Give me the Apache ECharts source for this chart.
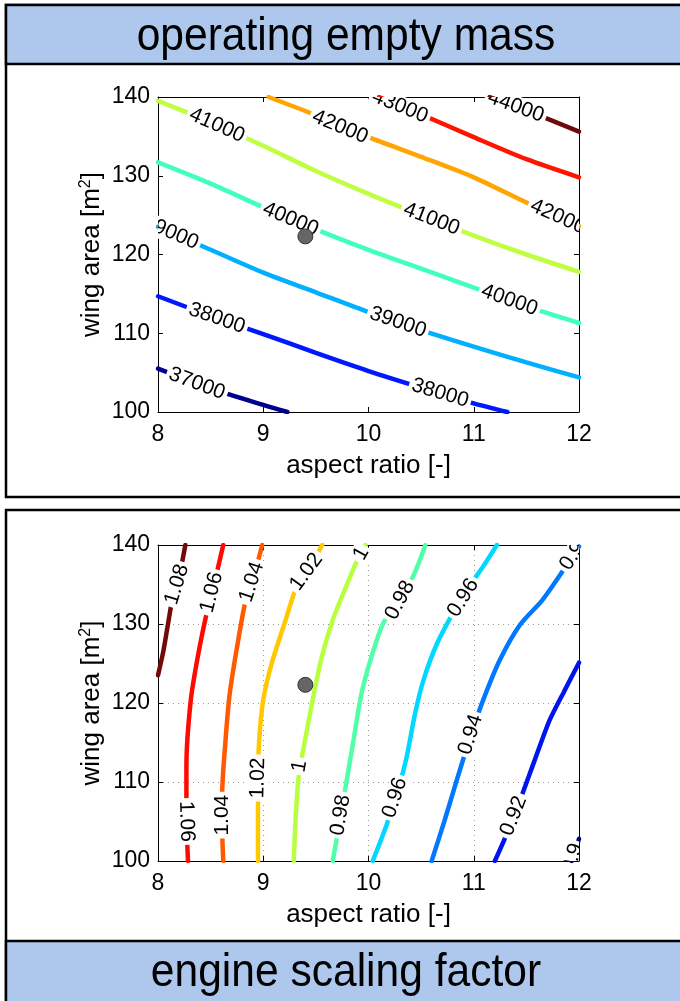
<!DOCTYPE html>
<html><head><meta charset="utf-8">
<script src="https://cdn.jsdelivr.net/npm/echarts@6/dist/echarts.min.js"></script>
<style>html,body{margin:0;padding:0;background:#fff}#c{width:680px;height:1001px}</style>
</head><body><div id="c"></div>
<script>
// ---------- data ----------
const xTicks = [8, 9, 10, 11, 12];
const yTicks = [100, 110, 120, 130, 140];
const designPoint = [[9.4, 122.3]];

// operating empty mass contours
const oemLevels = [37000, 38000, 39000, 40000, 41000, 42000, 43000, 44000];
const oemColors = ['#00008e', '#0018ff', '#00b0ff', '#40ffbf', '#bfff40', '#ffa400', '#ff1400', '#700a0a'];
const oemLines = [
  [[8,105.5],[8.5,103.0],[9.0,100.9],[9.23,100]],
  [[8,114.7],[8.5,112.2],[9,109.9],[9.5,107.5],[10,105.2],[10.5,103.1],[11,101.1],[11.32,100]],
  [[8,123.5],[8.5,120.6],[9,117.7],[9.5,115.2],[10,112.7],[10.5,110.4],[11,108.3],[11.5,106.3],[12,104.4]],
  [[8,131.7],[8.5,129.0],[9,126.0],[9.5,123.2],[10,120.6],[10.5,118.2],[11,115.8],[11.5,113.4],[12,111.3]],
  [[8,139.5],[8.5,136.8],[9,133.8],[9.5,130.6],[10,127.7],[10.5,125.0],[11,122.4],[11.5,120.0],[12,117.8]],
  [[9.05,140],[9.5,137.7],[10,134.9],[10.5,132.4],[11,129.8],[11.5,126.6],[12,123.6]],
  [[10.1,140],[10.5,137.8],[11,134.9],[11.5,132.1],[12,129.8]],
  [[11.15,140],[11.5,138.3],[12,135.6]]
];
// label anchors: [level index, aspect ratio, wing area]
const oemLabelPos = [
  [4, 8.56, 136.4], [5, 9.73, 136.2], [6, 10.3, 138.8], [7, 11.4, 138.8],
  [2, 8.12, 122.8], [3, 9.26, 124.5], [4, 10.6, 124.5], [5, 11.8, 124.8],
  [3, 11.34, 114.2], [2, 10.28, 111.4], [1, 8.56, 111.9], [1, 10.68, 102.4],
  [0, 8.37, 103.6]
];

// engine scaling factor contours
const esfLevels = [0.90, 0.92, 0.94, 0.96, 0.98, 1.00, 1.02, 1.04, 1.06, 1.08];
const esfColors = ['#00007a', '#0014f0', '#0078ff', '#00d8ff', '#50ffa8', '#b8ff40', '#ffc800', '#ff5a00', '#ff0a00', '#750808'];
const esfLines = [
  [[12,102.8],[11.96,101.2],[11.93,100]],
  [[12,125.1],[11.86,121.5],[11.72,117.8],[11.58,112.8],[11.44,107.7],[11.3,103],[11.2,100]],
  [[12,139.8],[11.82,136.2],[11.65,133],[11.44,129.9],[11.25,125.5],[11.09,120.4],[10.98,116.2],[10.84,110.3],[10.72,105],[10.6,100]],
  [[11.22,140],[11.1,137.5],[10.97,135],[10.82,131.8],[10.65,127.5],[10.52,122.8],[10.44,118.5],[10.36,113],[10.28,109],[10.17,104.5],[10.04,100]],
  [[10.54,140],[10.44,136.5],[10.3,133],[10.14,130.1],[10.02,125.5],[9.93,121],[9.86,115.5],[9.79,110],[9.72,104.5],[9.66,100]],
  [[9.97,140],[9.9,138.3],[9.78,134.5],[9.66,130.5],[9.55,125.5],[9.47,120.4],[9.40,115.5],[9.34,111],[9.31,106],[9.29,100]],
  [[9.56,140],[9.45,137.4],[9.33,135.2],[9.2,130],[9.08,125],[9.0,120.4],[8.96,115],[8.95,109.4],[8.95,100]],
  [[8.99,140],[8.92,136.5],[8.83,132.8],[8.75,127],[8.68,121],[8.64,115],[8.61,108.6],[8.61,104],[8.62,100]],
  [[8.62,140],[8.55,136],[8.47,131.8],[8.38,126],[8.31,120.2],[8.27,112],[8.27,106],[8.285,100]],
  [[8.26,140],[8.2,136],[8.14,133.4],[8.09,129.6],[8.05,126.5],[8.0,123.5]]
];
const esfLabelPos = [
  [9, 8.18, 135], [8, 8.51, 134], [7, 8.89, 135.3], [6, 9.41, 136.6], [5, 9.93, 138.9],
  [4, 10.3, 133], [3, 10.9, 133.3], [2, 11.97, 139.2],
  [8, 8.27, 105], [7, 8.61, 105.8], [6, 8.95, 110.5], [5, 9.345, 112],
  [4, 9.735, 105.8], [3, 10.25, 108], [2, 10.97, 116], [1, 11.38, 105.7], [0, 11.94, 100.4]
];

// ---------- chart ----------
const FONT = '"Liberation Sans", Arial, sans-serif';
const chart = echarts.init(document.getElementById('c'), null, {renderer: 'canvas'});

function segDist(p, a, b) {
  const dx = b[0]-a[0], dy = b[1]-a[1];
  const L = dx*dx + dy*dy;
  let t = L ? ((p[0]-a[0])*dx + (p[1]-a[1])*dy) / L : 0;
  t = Math.max(0, Math.min(1, t));
  const qx = a[0] + t*dx - p[0], qy = a[1] + t*dy - p[1];
  return Math.sqrt(qx*qx + qy*qy);
}
function labelRenderer(lines, levels) {
  return function (params, api) {
    const li = api.value(2);
    const p = api.coord([api.value(0), api.value(1)]);
    const pts = lines[li].map(d => api.coord(d));
    let best = Infinity, ang = 0;
    for (let i = 0; i < pts.length - 1; i++) {
      const d = segDist(p, pts[i], pts[i+1]);
      if (d < best) { best = d; ang = Math.atan2(-(pts[i+1][1]-pts[i][1]), pts[i+1][0]-pts[i][0]); }
    }
    while (ang > Math.PI/2 + 1e-6) ang -= Math.PI;
    while (ang <= -Math.PI/2 + 1e-6) ang += Math.PI;
    return {
      type: 'text', x: p[0], y: p[1], rotation: ang,
      style: {
        text: String(levels[li]), fill: '#000', font: '21px ' + FONT,
        align: 'center', verticalAlign: 'middle',
        backgroundColor: '#fff', padding: [0, 3]
      }
    };
  };
}

function axesX(g, grid) {
  return [{
    gridIndex: g, type: 'value', position: 'bottom',
    min: xTicks[0], max: xTicks[xTicks.length-1], interval: xTicks[1]-xTicks[0],
    axisLine: {show: true, onZero: false, lineStyle: {color: '#000', width: 1}},
    axisTick: {show: true, inside: true, length: 5, lineStyle: {color: '#000'}},
    axisLabel: {show: true, margin: 11, fontSize: 23, color: '#000', fontFamily: FONT},
    splitLine: {show: grid, lineStyle: {color: '#9a9a9a', width: 1, type: [1, 4]}},
    name: 'aspect ratio [-]', nameLocation: 'middle', nameGap: 41, nameMoveOverlap: false,
    nameTextStyle: {fontSize: 26, color: '#000', fontFamily: FONT}
  }, {
    gridIndex: g, type: 'value', position: 'top',
    min: xTicks[0], max: xTicks[xTicks.length-1], interval: xTicks[1]-xTicks[0],
    axisLine: {show: true, onZero: false, lineStyle: {color: '#000', width: 1}},
    axisTick: {show: true, inside: true, length: 5, lineStyle: {color: '#000'}},
    axisLabel: {show: false}, splitLine: {show: false}
  }];
}
function axesY(g, grid) {
  return [{
    gridIndex: g, type: 'value', position: 'left',
    min: yTicks[0], max: yTicks[yTicks.length-1], interval: yTicks[1]-yTicks[0],
    axisLine: {show: true, onZero: false, lineStyle: {color: '#000', width: 1}},
    axisTick: {show: true, inside: true, length: 5, lineStyle: {color: '#000'}},
    axisLabel: {show: true, margin: 8, fontSize: 23, color: '#000', fontFamily: FONT},
    splitLine: {show: grid, lineStyle: {color: '#9a9a9a', width: 1, type: [1, 4]}},
    name: '{a|wing area [m}{s|2}{a|]}', nameLocation: 'middle', nameGap: 52, nameRotate: 90, nameMoveOverlap: false,
    nameTextStyle: {color: '#000', fontFamily: FONT, fontSize: 26,
      rich: {a: {fontSize: 26, color: '#000', fontFamily: FONT},
             s: {fontSize: 16, color: '#000', fontFamily: FONT, verticalAlign: 'top', padding: [0, 0, 12, 0]}}}
  }, {
    gridIndex: g, type: 'value', position: 'right',
    min: yTicks[0], max: yTicks[yTicks.length-1], interval: yTicks[1]-yTicks[0],
    axisLine: {show: true, onZero: false, lineStyle: {color: '#000', width: 1}},
    axisTick: {show: true, inside: true, length: 5, lineStyle: {color: '#000'}},
    axisLabel: {show: false}, splitLine: {show: false}
  }];
}

function contourSeries(lines, levels, colors, labelPos, xi, yi) {
  const s = lines.map((pts, i) => ({
    type: 'line', xAxisIndex: xi, yAxisIndex: yi, data: pts,
    showSymbol: false, symbol: 'none', smooth: 0.25, clip: true, silent: true, z: 2,
    lineStyle: {color: colors[i], width: 4.5, cap: 'round'}
  }));
  s.push({
    type: 'custom', xAxisIndex: xi, yAxisIndex: yi, clip: true, silent: true, z: 3,
    data: labelPos.map(l => [l[1], l[2], l[0]]),
    encode: {x: 0, y: 1},
    renderItem: labelRenderer(lines, levels)
  });
  s.push({
    type: 'scatter', xAxisIndex: xi, yAxisIndex: yi, data: designPoint, z: 4, silent: true,
    symbolSize: 15, itemStyle: {color: '#666666', borderColor: '#333', borderWidth: 1, opacity: 1}
  });
  return s;
}

const BAR = '#adc8ec';
const option = {
  backgroundColor: '#fff',
  animation: false,
  grid: [
    {left: 158, top: 97, width: 421, height: 315, containLabel: false, outerBoundsMode: 'none'},
    {left: 158, top: 545, width: 421, height: 316, containLabel: false, outerBoundsMode: 'none'}
  ],
  xAxis: [...axesX(0, false), ...axesX(1, true)],
  yAxis: [...axesY(0, false), ...axesY(1, true)],
  series: [
    ...contourSeries(oemLines, oemLevels, oemColors, oemLabelPos, 0, 0),
    ...contourSeries(esfLines, esfLevels, esfColors, esfLabelPos, 2, 2)
  ],
  graphic: [
    {type: 'rect', shape: {x: 6, y: 5, width: 700, height: 492}, style: {fill: 'none', stroke: '#000', lineWidth: 2.5}},
    {type: 'rect', shape: {x: 6, y: 5, width: 700, height: 59}, style: {fill: BAR, stroke: '#000', lineWidth: 2.5}},
    {type: 'text', x: 346, y: 37, scaleX: 0.925, style: {text: 'operating empty mass', font: '46px ' + FONT, fill: '#000', align: 'center', verticalAlign: 'middle'}},
    {type: 'rect', shape: {x: 6, y: 510, width: 700, height: 520}, style: {fill: 'none', stroke: '#000', lineWidth: 2.5}},
    {type: 'rect', shape: {x: 6, y: 941, width: 700, height: 90}, style: {fill: BAR, stroke: '#000', lineWidth: 2.5}},
    {type: 'text', x: 346, y: 973, scaleX: 0.925, style: {text: 'engine scaling factor', font: '46px ' + FONT, fill: '#000', align: 'center', verticalAlign: 'middle'}}
  ]
};
chart.setOption(option);
</script>
</body></html>
